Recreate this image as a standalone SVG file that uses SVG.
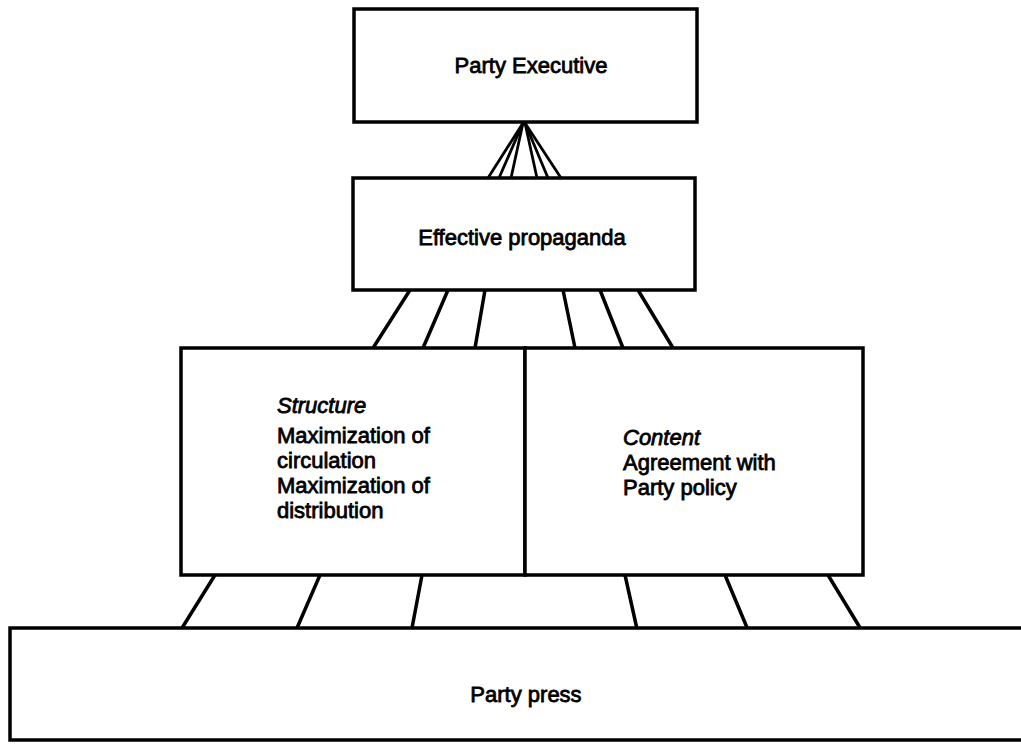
<svg xmlns="http://www.w3.org/2000/svg" width="1021" height="744" viewBox="0 0 1021 744">
<style>
.box{fill:#fff;stroke:#000;stroke-width:3.5}
.lnk{stroke:#000;stroke-width:3.5;fill:none;stroke-linecap:round}
.fan{stroke:#000;stroke-width:2.8;fill:none;stroke-linecap:round}
.t{font-family:"Liberation Sans",Arial,sans-serif;font-size:22px;fill:#000;stroke:#000;stroke-width:0.8}
.c{text-anchor:middle}
.i{font-style:italic}
</style>
<rect x="0" y="0" width="1021" height="744" fill="#fff"/>
<g id="connectors">
<line class="fan" x1="523" y1="123" x2="488" y2="178"/>
<line class="fan" x1="523" y1="123" x2="499" y2="178"/>
<line class="fan" x1="523" y1="123" x2="511" y2="178"/>
<line class="fan" x1="525" y1="123" x2="537" y2="178"/>
<line class="fan" x1="525" y1="123" x2="548" y2="178"/>
<line class="fan" x1="525" y1="123" x2="561" y2="178"/>
<line class="lnk" x1="410" y1="290" x2="373" y2="348"/>
<line class="lnk" x1="448" y1="290" x2="423" y2="348"/>
<line class="lnk" x1="485" y1="290" x2="475" y2="348"/>
<line class="lnk" x1="563" y1="290" x2="575" y2="348"/>
<line class="lnk" x1="600" y1="290" x2="623" y2="348"/>
<line class="lnk" x1="638" y1="290" x2="673" y2="348"/>
<line class="lnk" x1="215" y1="575" x2="182" y2="628"/>
<line class="lnk" x1="320" y1="575" x2="297" y2="628"/>
<line class="lnk" x1="422" y1="575" x2="412" y2="628"/>
<line class="lnk" x1="625" y1="575" x2="637" y2="629"/>
<line class="lnk" x1="725" y1="575" x2="748" y2="630"/>
<line class="lnk" x1="828" y1="575" x2="862" y2="631"/>
</g>
<g id="party-executive">
<rect class="box" x="354" y="9" width="343" height="113"/>
<text class="t c" x="531" y="73">Party Executive</text>
</g>
<g id="effective-propaganda">
<rect class="box" x="353" y="178" width="342" height="112"/>
<text class="t c" x="522" y="245">Effective propaganda</text>
</g>
<g id="structure">
<rect class="box" x="181" y="348" width="344" height="227"/>
<text class="t i" x="277" y="413">Structure</text>
<text class="t" x="277" y="443">Maximization of</text>
<text class="t" x="277" y="468">circulation</text>
<text class="t" x="277" y="493">Maximization of</text>
<text class="t" x="277" y="518">distribution</text>
</g>
<g id="content">
<rect class="box" x="525" y="348" width="338" height="227"/>
<text class="t i" x="623" y="445">Content</text>
<text class="t" x="623" y="470">Agreement with</text>
<text class="t" x="623" y="495">Party policy</text>
</g>
<g id="party-press">
<rect class="box" x="10" y="628" width="1030" height="112"/>
<text class="t c" x="526" y="702">Party press</text>
</g>
</svg>
